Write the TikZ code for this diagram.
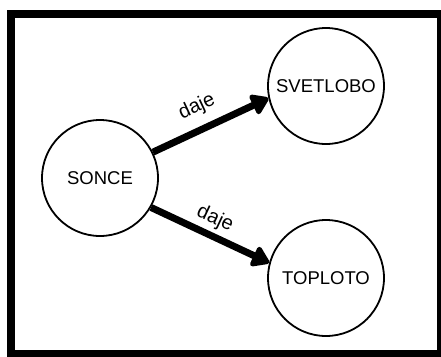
\documentclass[tikz,border=0pt]{standalone}
\usepackage{fontspec}
\setmainfont{Liberation Sans}
\usetikzlibrary{arrows.meta}
\begin{document}
\begin{tikzpicture}[x=1pt,y=-1pt,
  concept/.style={circle,draw=black,line width=1.8pt,fill=white,
    minimum size=116pt,inner sep=0pt,font=\fontsize{18.5}{20}\selectfont},
  gives/.style={line width=7pt,
    -{Triangle[length=19pt,width=24pt,round]}},
  relname/.style={inner sep=0pt,font=\fontsize{20}{22}\selectfont}]
  \useasboundingbox (0,0) rectangle (441,356);
  % outer frame
  \draw[line width=8pt] (11,14) rectangle (441,354);
  % concepts
  \node[concept] (sonce) at (100,178) {SONCE};
  \node[concept] (svetlobo) at (326,86) {SVETLOBO};
  \node[concept] (toploto) at (326,278) {TOPLOTO};
  % relations
  \draw[gives] (sonce.26) -- (svetlobo.192);
  \draw[gives] (sonce.330) -- (toploto.165);
  % relation names, turned along their arrows
  \node[relname,rotate=25] (l1) at (197,107) {daje};
  \node[relname,rotate=-25] (l2) at (215,219) {daje};
\end{tikzpicture}
\end{document}
